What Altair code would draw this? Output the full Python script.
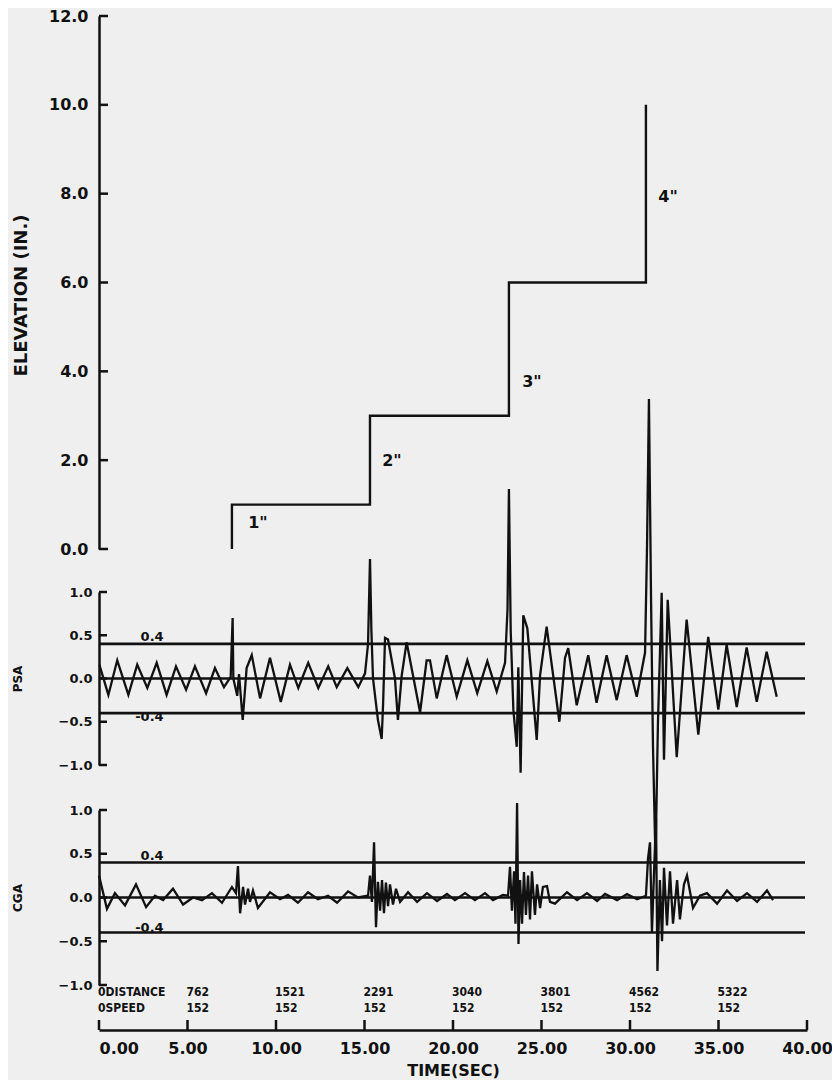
import altair as alt
import pandas as pd

INK = "#111111"
FONT = "DejaVu Sans"
COND = "DejaVu Sans Condensed, Liberation Sans Narrow, DejaVu Sans"

# ---------------- data ----------------
time_ticks = [0, 5, 10, 15, 20, 25, 30, 35, 40]

# elevation step profile (time s, elevation in.)
elev_t = [7.51, 7.51, 15.31, 15.31, 23.16, 23.16, 30.90, 30.90]
elev_v = [0.0, 1.0, 1.0, 3.0, 3.0, 6.0, 6.0, 10.0]
step_labels = ['1"', '2"', '3"', '4"']
step_label_t = [8.98, 16.55, 24.46, 32.15]
step_label_v = [0.59, 1.99, 3.75, 7.93]
elev_ticks = [0, 2, 4, 6, 8, 10, 12]

# PSA trace
psa_t = [0.02, 0.53, 1.03, 1.66, 2.16, 2.73, 3.26, 3.82, 4.35, 4.92, 5.42, 6.05, 6.55, 7.06,
         7.44, 7.55, 7.59, 7.81, 7.91, 8.12, 8.34, 8.63, 9.10, 9.66, 10.27, 10.79, 11.26,
         11.82, 12.39, 12.95, 13.43, 14.03, 14.65, 15.03, 15.20, 15.31, 15.39, 15.48, 15.76,
         15.97, 16.05, 16.16, 16.33, 16.72, 16.89, 17.10, 17.38, 18.14, 18.51, 18.70, 19.08,
         19.64, 20.21, 20.81, 21.37, 21.94, 22.47, 22.94, 23.08, 23.16, 23.26, 23.41, 23.60,
         23.69, 23.82, 23.97, 24.20, 24.73, 24.92, 25.29, 26.01, 26.33, 26.51, 26.99, 27.64,
         28.11, 28.68, 29.25, 29.81, 30.38, 30.85, 30.96, 31.07, 31.19, 31.30, 31.44, 31.58,
         31.79, 31.92, 32.13, 32.64, 33.20, 33.86, 34.42, 34.99, 35.46, 36.03, 36.59, 37.16,
         37.72, 38.29]
psa_v = [0.16, -0.19, 0.21, -0.19, 0.16, -0.11, 0.18, -0.19, 0.14, -0.13, 0.14, -0.17, 0.12, -0.10,
         0.02, 0.70, 0.00, -0.20, 0.05, -0.48, 0.12, 0.27, -0.23, 0.24, -0.27, 0.16, -0.11,
         0.18, -0.11, 0.14, -0.10, 0.12, -0.10, 0.06, 0.40, 1.38, 0.55, 0.00, -0.48,
         -0.70, -0.30, 0.47, 0.45, 0.00, -0.48, 0.03, 0.42, -0.39, 0.21, 0.21, -0.23,
         0.27, -0.21, 0.21, -0.17, 0.20, -0.15, 0.18, 0.80, 2.19, 0.55, -0.36, -0.79,
         0.13, -1.09, 0.73, 0.58, -0.71, 0.04, 0.60, -0.50, 0.24, 0.35, -0.31, 0.27,
         -0.28, 0.27, -0.25, 0.27, -0.21, 0.30, 1.50, 3.23, 0.90, -0.80, -2.10, -0.50,
         0.99, -0.94, 0.91, -0.91, 0.68, -0.65, 0.48, -0.36, 0.39, -0.33, 0.36, -0.27,
         0.31, -0.21]

# CGA trace
cga_t = [0.00, 0.45, 0.90, 1.47, 2.09, 2.66, 3.16, 3.62, 4.18, 4.75, 5.31, 5.82, 6.38, 6.95,
         7.51, 7.74, 7.85, 7.97, 8.14, 8.25, 8.42, 8.53, 8.70, 8.98, 9.66, 10.23, 10.68, 11.24,
         11.81, 12.37, 12.94, 13.45, 14.07, 14.63, 15.20, 15.31, 15.42, 15.54, 15.65, 15.76,
         15.88, 15.99, 16.10, 16.21, 16.33, 16.44, 16.61, 16.78, 17.01, 17.46, 17.97, 18.53,
         19.10, 19.66, 20.11, 20.68, 21.24, 21.81, 22.26, 22.82, 23.11, 23.22, 23.33, 23.45,
         23.53, 23.62, 23.70, 23.79, 23.90, 24.01, 24.12, 24.24, 24.35, 24.46, 24.63, 24.75,
         24.92, 25.08, 25.31, 25.48, 25.76, 26.44, 27.01, 27.57, 28.14, 28.59, 29.27, 29.83,
         30.40, 30.90, 31.02, 31.13, 31.24, 31.36, 31.47, 31.55, 31.69, 31.81, 31.92, 32.09,
         32.26, 32.43, 32.66, 32.82, 33.05, 33.22, 33.56, 33.95, 34.35, 34.92, 35.48, 36.05,
         36.61, 37.18, 37.74, 38.08]
cga_v = [0.25, -0.13, 0.05, -0.09, 0.15, -0.11, 0.02, -0.03, 0.10, -0.08, 0.00, -0.03, 0.05, -0.06,
         0.12, 0.05, 0.36, -0.18, 0.12, -0.08, 0.10, -0.05, 0.08, -0.12, 0.06, -0.02, 0.03, -0.06,
         0.06, -0.02, 0.02, -0.06, 0.07, 0.00, 0.02, 0.25, -0.05, 0.63, -0.34, 0.18,
         -0.15, 0.20, -0.18, 0.17, -0.10, 0.15, -0.08, 0.10, -0.05, 0.06, -0.05, 0.05,
         -0.04, 0.04, -0.03, 0.05, -0.03, 0.05, -0.03, 0.03, 0.02, 0.35, -0.15, 0.30,
         -0.30, 1.08, -0.53, 0.20, -0.30, 0.29, -0.20, 0.25, -0.25, 0.30, -0.20, 0.15,
         -0.12, 0.12, 0.13, -0.05, -0.07, 0.06, -0.03, 0.05, -0.04, 0.04, -0.03, 0.04,
         -0.02, 0.02, 0.45, 0.63, -0.40, 0.30, 0.90, -0.84, 0.20, -0.50, 0.34, -0.32,
         0.30, -0.30, 0.20, -0.25, 0.15, 0.25, -0.12, 0.02, 0.05, -0.07, 0.08, -0.04,
         0.05, -0.05, 0.08, -0.03]

band_levels = [0.4, 0.0, -0.4]
signal_ticks = [1.0, 0.5, 0.0, -0.5, -1.0]
upper_text, upper_v = "0.4", 0.4
lower_text, lower_v = "-0.4", -0.4
psa_band_text_t = [3.0, 2.85]
cga_band_text_t = [3.0, 2.85]

# distance / speed table
table_t = [0, 5, 10, 15, 20, 25, 30, 35]
distance = [0, 762, 1521, 2291, 3040, 3801, 4562, 5322]
speed = [0, 152, 152, 152, 152, 152, 152, 152]

# ---------------- geometry (plot-area pixels) ----------------
W, H = 708, 1014
x_scale = alt.Scale(domain=[0, 40], nice=False)
elev_scale = alt.Scale(domain=[0, 12], range=[533, 0], nice=False, zero=False)
psa_scale = alt.Scale(domain=[-1, 1], range=[749, 576], nice=False, zero=False)
cga_scale = alt.Scale(domain=[-1, 1], range=[969, 794], nice=False, zero=False)
row_scale = alt.Scale(domain=["DISTANCE", "SPEED"], range=[976, 992], padding=0)

x_axis = alt.Axis(values=time_ticks, format=".2f", title="TIME(SEC)", ticks=False, grid=False,
                  labelPadding=10, labelFontSize=16, titleFontSize=16, titlePadding=6,
                  domainWidth=2.5, labelFlush=False,
                  labelAlign={"condition": {"test": "datum.value == 0", "value": "left"},
                              "value": "center"})


def X(field="t"):
    return alt.X(f"{field}:Q", scale=x_scale, axis=x_axis)


layers = []

# elevation
df_elev = pd.DataFrame({"t": elev_t, "v": elev_v, "i": range(len(elev_t))})
layers.append(alt.Chart(df_elev).mark_line(color=INK, strokeWidth=2.4, strokeJoin="miter").encode(
    x=X(),
    y=alt.Y("v:Q", scale=elev_scale,
            axis=alt.Axis(orient="left", values=elev_ticks, format=".1f", title="ELEVATION (IN.)",
                          ticks=False, grid=False, labelPadding=11, labelFontSize=16,
                          titleFontSize=18, titleX=-69, titleY=279, domainWidth=2.5)),
    order="i:Q"))
layers.append(alt.Chart(pd.DataFrame({"v": elev_ticks})).mark_rule(color=INK, strokeWidth=2.5).encode(
    y=alt.Y("v:Q", scale=elev_scale, axis=None), x=alt.value(0), x2=alt.value(9)))
layers.append(alt.Chart(pd.DataFrame({"t": step_label_t, "v": step_label_v, "s": step_labels}))
              .mark_text(color=INK, font=FONT, fontWeight="bold", fontSize=16)
              .encode(x=X(), y=alt.Y("v:Q", scale=elev_scale, axis=None), text="s:N"))


def signal_panel(scale, title, t, v, text_t, lower_baseline, lower_dy):
    out = []
    out.append(alt.Chart(pd.DataFrame({"v": band_levels})).mark_rule(color=INK, strokeWidth=2.6).encode(
        y=alt.Y("v:Q", scale=scale,
                axis=alt.Axis(orient="left", values=signal_ticks, format=".1f", title=title,
                              ticks=False, grid=False, labelPadding=7, labelFontSize=13,
                              titleFontSize=12, titleX=-75, domainWidth=2.5)),
        x=alt.value(0), x2=alt.value(706)))
    out.append(alt.Chart(pd.DataFrame({"v": signal_ticks})).mark_rule(color=INK, strokeWidth=2.5).encode(
        y=alt.Y("v:Q", scale=scale, axis=None), x=alt.value(0), x2=alt.value(8)))
    df = pd.DataFrame({"t": t, "v": v, "i": range(len(t))})
    out.append(alt.Chart(df).mark_line(color=INK, strokeWidth=2.3, strokeJoin="miter").encode(
        x=X(), y=alt.Y("v:Q", scale=scale, axis=None), order="i:Q"))
    out.append(alt.Chart(pd.DataFrame({"t": [text_t[0]], "v": [upper_v], "s": [upper_text]}))
               .mark_text(color=INK, font=FONT, fontWeight="bold", fontSize=13,
                          baseline="bottom", dy=0)
               .encode(x=X(), y=alt.Y("v:Q", scale=scale, axis=None), text="s:N"))
    out.append(alt.Chart(pd.DataFrame({"t": [text_t[1]], "v": [lower_v], "s": [lower_text]}))
               .mark_text(color=INK, font=FONT, fontWeight="bold", fontSize=13,
                          baseline=lower_baseline, dy=lower_dy)
               .encode(x=X(), y=alt.Y("v:Q", scale=scale, axis=None), text="s:N"))
    return out


layers += signal_panel(psa_scale, "PSA", psa_t, psa_v, psa_band_text_t, "top", -2)
layers += signal_panel(cga_scale, "CGA", cga_t, cga_v, cga_band_text_t, "bottom", 2)

# x-axis inward ticks
layers.append(alt.Chart(pd.DataFrame({"t": time_ticks})).mark_rule(color=INK, strokeWidth=2.5).encode(
    x=X(), y=alt.value(H - 10), y2=alt.value(H)))

# distance / speed table
rows = []
for k, tt in enumerate(table_t):
    rows.append({"t": tt, "row": "DISTANCE",
                 "s": f"{distance[k]}DISTANCE" if k == 0 else str(distance[k])})
    rows.append({"t": tt, "row": "SPEED",
                 "s": f"{speed[k]}SPEED" if k == 0 else str(speed[k])})
layers.append(alt.Chart(pd.DataFrame(rows)).mark_text(
    color=INK, font=COND, fontWeight="bold", fontSize=12, align="left", baseline="middle",
    dx=-1).encode(
    x=X(), y=alt.Y("row:N", scale=row_scale, axis=None), text="s:N"))

chart = (
    alt.layer(*layers)
    .resolve_scale(y="independent")
    .properties(width=W, height=H, background="#efefef",
                autosize=alt.AutoSizeParams(type="none"),
                padding={"left": 91, "top": 8, "right": 25, "bottom": 50})
    .configure_axis(labelFont=FONT, titleFont=FONT, labelFontWeight="bold", titleFontWeight="bold",
                    labelColor=INK, titleColor=INK, domainColor=INK)
    .configure_view(stroke=None)
)

chart.save("out.html", embed_options={"renderer": "svg", "actions": False})
